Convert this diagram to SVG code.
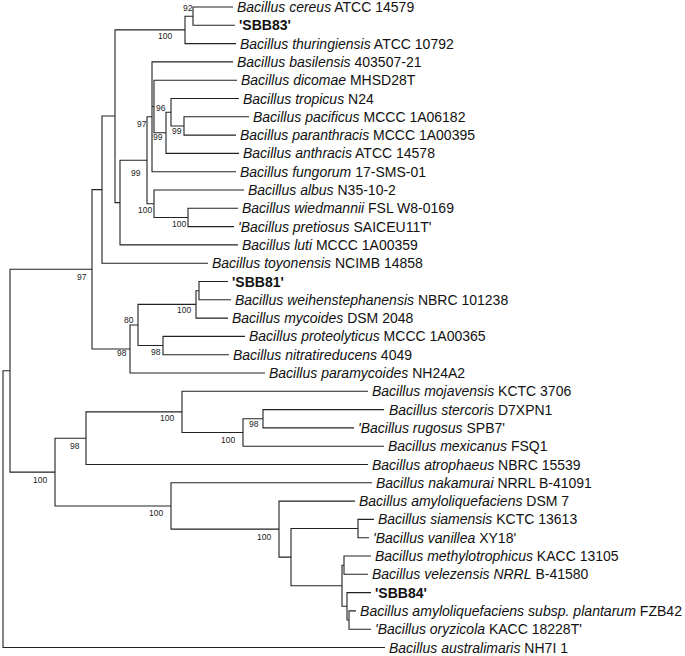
<svg xmlns="http://www.w3.org/2000/svg" width="685" height="656" viewBox="0 0 685 656">
<style>
.e{fill:none;stroke:#222;stroke-width:1.1}
.t{font-family:"Liberation Sans",Arial,sans-serif;font-size:14px;fill:#111}
.i{font-style:italic}
.b{font-weight:bold}
.s{font-family:"Liberation Sans",Arial,sans-serif;font-size:8.5px;fill:#222}
</style>
<rect width="685" height="656" fill="#fff"/>
<g id="connectors" class="e">
<path d="M233,7 H193 V25.3 H235"/>
<path d="M193,16.2 H185 V43.6 H236"/>
<path d="M249,116.8 H184 V135.1 H236"/>
<path d="M239,98.5 H171 V126 H184"/>
<path d="M171,112.2 H166 V153.4 H239"/>
<path d="M237,80.2 H154 V132.8 H166"/>
<path d="M233,61.9 H152 V171.7 H236 M152,106.5 H154"/>
<path d="M238,208.3 H188 V226.6 H234"/>
<path d="M244,190 H154 V217.5 H188"/>
<path d="M152,116.8 H147 V203.7 H154"/>
<path d="M147,160.3 H120 V244.9 H238"/>
<path d="M185,29.9 H115 V202.6 H120"/>
<path d="M115,116 H102 V263.2 H208"/>
<path d="M228,281.5 H199 V299.8 H231"/>
<path d="M199,290.7 H196 V318.1 H228"/>
<path d="M245,336.4 H163 V354.7 H229"/>
<path d="M196,304.4 H138 V345.5 H163"/>
<path d="M138,325 H130 V373 H265"/>
<path d="M102,189.6 H92 V349 H130"/>
<path d="M384,409.6 H263 V427.9 H354"/>
<path d="M263,418.7 H243 V446.2 H384"/>
<path d="M368,391.3 H182 V432.5 H243"/>
<path d="M182,411.9 H86 V464.5 H368"/>
<path d="M374,519.4 H358 V537.7 H369"/>
<path d="M371,556 H344 V574.3 H368"/>
<path d="M356,610.9 H349 V629.2 H371"/>
<path d="M371,592.6 H347 V620 H349"/>
<path d="M344,565.2 H342 V606.3 H347"/>
<path d="M358,528.5 H291 V585.7 H342"/>
<path d="M355,501.1 H279 V557.1 H291"/>
<path d="M372,482.8 H171 V529.1 H279"/>
<path d="M86,438.2 H55 V506 H171"/>
<path d="M92,269.3 H10 V472.1 H55"/>
<path d="M10,370.7 H3 V647.5 H385"/>
</g>
<g id="leaves" class="t">
<text id="n1" x="237" y="12"><tspan class="i">Bacillus cereus</tspan> ATCC 14579</text>
<text id="n2" x="239" y="30.3" class="b">'SBB83'</text>
<text id="n3" x="240" y="48.6"><tspan class="i">Bacillus thuringiensis</tspan> ATCC 10792</text>
<text id="n4" x="237" y="66.9"><tspan class="i">Bacillus basilensis</tspan> 403507-21</text>
<text id="n5" x="241" y="85.2"><tspan class="i">Bacillus dicomae</tspan> MHSD28T</text>
<text id="n6" x="243" y="103.5"><tspan class="i">Bacillus tropicus</tspan> N24</text>
<text id="n7" x="253" y="121.8"><tspan class="i">Bacillus pacificus</tspan> MCCC 1A06182</text>
<text id="n8" x="240" y="140.1"><tspan class="i">Bacillus paranthracis</tspan> MCCC 1A00395</text>
<text id="n9" x="243" y="158.4"><tspan class="i">Bacillus anthracis</tspan> ATCC 14578</text>
<text id="n10" x="240" y="176.7"><tspan class="i">Bacillus fungorum</tspan> 17-SMS-01</text>
<text id="n11" x="248" y="195"><tspan class="i">Bacillus albus</tspan> N35-10-2</text>
<text id="n12" x="242" y="213.3"><tspan class="i">Bacillus wiedmannii</tspan> FSL W8-0169</text>
<text id="n13" x="238" y="231.6"><tspan class="i">'Bacillus pretiosus</tspan> SAICEU11T'</text>
<text id="n14" x="242" y="249.9"><tspan class="i">Bacillus luti</tspan> MCCC 1A00359</text>
<text id="n15" x="212" y="268.2"><tspan class="i">Bacillus toyonensis</tspan> NCIMB 14858</text>
<text id="n16" x="232" y="286.5" class="b">'SBB81'</text>
<text id="n17" x="235" y="304.8"><tspan class="i">Bacillus weihenstephanensis</tspan> NBRC 101238</text>
<text id="n18" x="232" y="323.1"><tspan class="i">Bacillus mycoides</tspan> DSM 2048</text>
<text id="n19" x="249" y="341.4"><tspan class="i">Bacillus proteolyticus</tspan> MCCC 1A00365</text>
<text id="n20" x="233" y="359.7"><tspan class="i">Bacillus nitratireducens</tspan> 4049</text>
<text id="n21" x="269" y="378"><tspan class="i">Bacillus paramycoides</tspan> NH24A2</text>
<text id="n22" x="372" y="396.3"><tspan class="i">Bacillus mojavensis</tspan> KCTC 3706</text>
<text id="n23" x="389" y="414.6"><tspan class="i">Bacillus stercoris</tspan> D7XPN1</text>
<text id="n24" x="358" y="432.9"><tspan class="i">'Bacillus rugosus</tspan> SPB7'</text>
<text id="n25" x="388" y="451.2"><tspan class="i">Bacillus mexicanus</tspan> FSQ1</text>
<text id="n26" x="372" y="469.5"><tspan class="i">Bacillus atrophaeus</tspan> NBRC 15539</text>
<text id="n27" x="376" y="487.8"><tspan class="i">Bacillus nakamurai</tspan> NRRL B-41091</text>
<text id="n28" x="359" y="506.1"><tspan class="i">Bacillus amyloliquefaciens</tspan> DSM 7</text>
<text id="n29" x="378" y="524.4"><tspan class="i">Bacillus siamensis</tspan> KCTC 13613</text>
<text id="n30" x="373" y="542.7"><tspan class="i">'Bacillus vanillea</tspan> XY18'</text>
<text id="n31" x="375" y="561"><tspan class="i">Bacillus methylotrophicus</tspan> KACC 13105</text>
<text id="n32" x="372" y="579.3"><tspan class="i">Bacillus velezensis NRRL</tspan> B-41580</text>
<text id="n33" x="375" y="597.6" class="b">'SBB84'</text>
<text id="n34" x="360" y="615.9" textLength="322" lengthAdjust="spacingAndGlyphs"><tspan class="i">Bacillus amyloliquefaciens subsp. plantarum</tspan> FZB42</text>
<text id="n35" x="375" y="634.2"><tspan class="i">'Bacillus oryzicola</tspan> KACC 18228T'</text>
<text id="n36" x="389" y="652.5"><tspan class="i">Bacillus australimaris</tspan> NH7I 1</text>
</g>
<g id="support" class="s">
<text x="183" y="11">92</text>
<text x="158" y="39">100</text>
<text x="137" y="127">97</text>
<text x="156" y="111">96</text>
<text x="172" y="134">99</text>
<text x="153" y="140">99</text>
<text x="131" y="176">99</text>
<text x="138" y="213">100</text>
<text x="172" y="227">100</text>
<text x="77" y="280">97</text>
<text x="177" y="313">100</text>
<text x="124" y="323">80</text>
<text x="117" y="356">98</text>
<text x="151" y="355">98</text>
<text x="160" y="421">100</text>
<text x="249" y="427">98</text>
<text x="221" y="443">100</text>
<text x="70" y="449">98</text>
<text x="33" y="483">100</text>
<text x="149" y="516">100</text>
<text x="257" y="540">100</text>
</g>
</svg>
